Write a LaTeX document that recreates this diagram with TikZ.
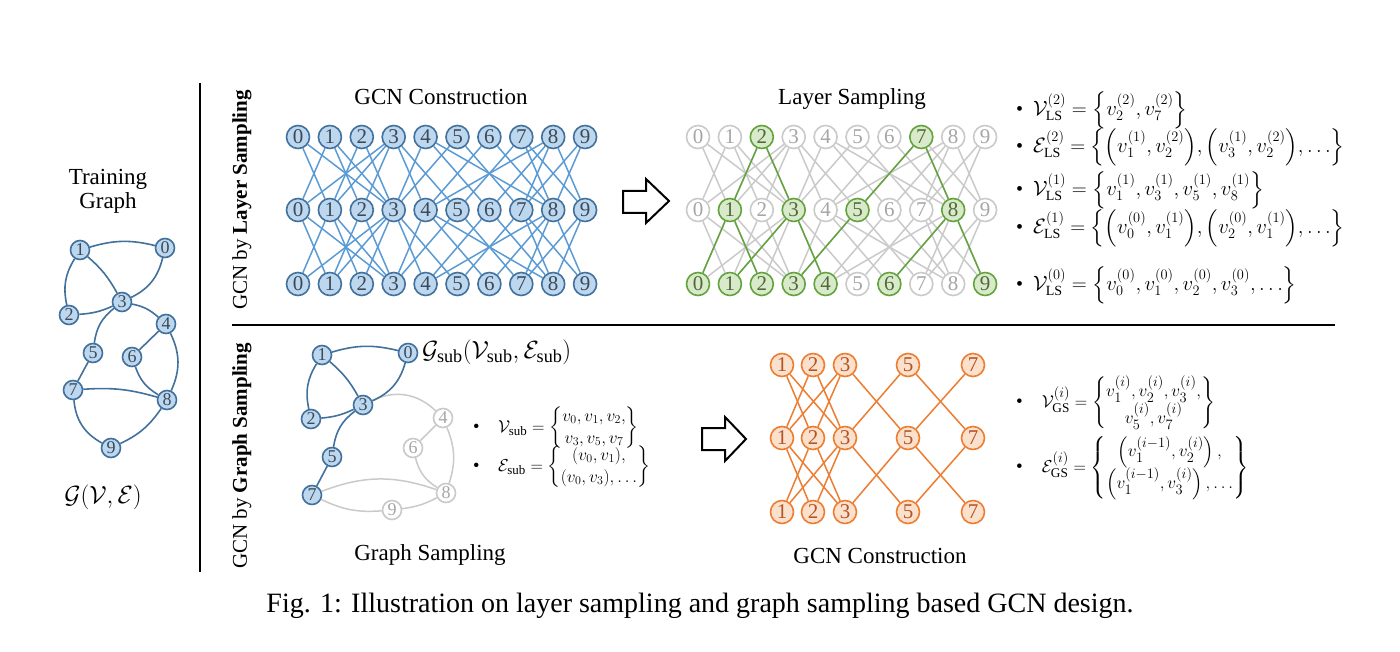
\documentclass[tikz,border=0pt]{standalone}
\usepackage{amsmath}
\usepackage{fontspec}
\setmainfont{Liberation Serif}

\definecolor{bluefill}{HTML}{BDD7EE}
\definecolor{blueline}{HTML}{41719C}
\definecolor{blueedge}{HTML}{5B9BD5}
\definecolor{greenfill}{HTML}{D9EACB}
\definecolor{greenline}{HTML}{62A33D}
\definecolor{greentext}{HTML}{4F6A38}
\definecolor{grayline}{HTML}{CACACA}
\definecolor{graytext}{HTML}{A6A6A6}
\definecolor{orangefill}{HTML}{FBE0CC}
\definecolor{orangeline}{HTML}{ED7D31}
\definecolor{orangetext}{HTML}{B0552A}
\definecolor{nodetext}{HTML}{3A4A5A}

\tikzset{
  vtx/.style={circle, draw, inner sep=0pt, line width=1.6pt, minimum size=23pt, font=\fontsize{21}{21}\selectfont},
  bvtx/.style={vtx, draw=blueline, fill=bluefill, text=nodetext},
  grn/.style={vtx, draw=greenline, fill=greenfill, text=greentext},
  gry/.style={vtx, draw=grayline, fill=white, text=graytext},
  ovtx/.style={vtx, draw=orangeline, fill=orangefill, text=orangetext},
  tvtx/.style={bvtx, minimum size=19pt, font=\fontsize{18}{18}\selectfont},
  svtx/.style={gry, minimum size=19pt, font=\fontsize{18}{18}\selectfont},
  bedge/.style={draw=blueedge, line width=1.5pt},
  gedge/.style={draw=greenline, line width=1.5pt},
  xedge/.style={draw=grayline, line width=1.5pt},
  oedge/.style={draw=orangeline, line width=1.5pt},
  tedge/.style={draw=blueline, line width=1.6pt},
  title/.style={font=\fontsize{23}{26}\selectfont},
  mathtxt/.style={anchor=west, inner sep=0pt, font=\fontsize{20}{20}\selectfont},
  blockarrow/.style={draw=black, line width=2pt, fill=white, line join=miter},
}

\begin{document}
\begin{tikzpicture}[x=1pt, y=-1pt]
\path[fill=white, use as bounding box] (0,0) rectangle (1400,652);

% dividers
\draw[line width=2pt] (200,83) -- (200,572);
\draw[line width=2.5pt] (232,325) -- (1335,325);
\node[rotate=90, font=\fontsize{21}{24}\selectfont] (lslab) at (242,200) {GCN by \textbf{Layer Sampling}};
\node[rotate=90, font=\fontsize{21}{24}\selectfont] (gslab) at (242,456) {GCN by \textbf{Graph Sampling}};

% training graph
\node[title, align=center] (ttl) at (108,191) {Training\\[-2pt]Graph};
\node[tvtx] (t0) at (165,248) {0};
\node[tvtx] (t1) at (80,250) {1};
\node[tvtx] (t2) at (69,315) {2};
\node[tvtx] (t3) at (122,302) {3};
\node[tvtx] (t4) at (166,324) {4};
\node[tvtx] (t5) at (93,353) {5};
\node[tvtx] (t6) at (132,357) {6};
\node[tvtx] (t7) at (73,390) {7};
\node[tvtx] (t8) at (167,400) {8};
\node[tvtx] (t9) at (111,448) {9};
\draw[tedge] (t1) to[bend left=15] (t0);
\draw[tedge] (t1) to[bend left=10] (t3);
\draw[tedge] (t1) to[bend right=22] (t2);
\draw[tedge] (t0) to[bend left=25] (t3);
\draw[tedge] (t2) to[bend right=10] (t3);
\draw[tedge] (t3) to[bend left=15] (t4);
\draw[tedge] (t3) to[bend right=22] (t5);
\draw[tedge] (t4) -- (t6);
\draw[tedge] (t4) to[bend left=25] (t8);
\draw[tedge] (t5) -- (t7);
\draw[tedge] (t6) to[bend right=20] (t8);
\draw[tedge] (t7) to[bend left=10] (t8);
\draw[tedge] (t7) to[bend right=28] (t9);
\draw[tedge] (t9) to[bend right=15] (t8);
\node[font=\fontsize{24}{26}\selectfont] (tg) at (103,497) {$\mathcal{G}(\mathcal{V},\mathcal{E})$};

% GCN construction (layer sampling row)
\node[title] (gcnttl) at (441,97) {GCN Construction};
\foreach \i in {0,...,9} {
  \node[bvtx] (gt\i) at ({298+31.9*\i},137) {\i};
  \node[bvtx] (gm\i) at ({298+31.9*\i},210) {\i};
  \node[bvtx] (gb\i) at ({298+31.9*\i},284) {\i};
}
\foreach \u/\v in {0/1,0/3,1/2,1/3,2/3,3/4,3/5,4/6,4/8,5/7,6/8,7/8,7/9,8/9} {
  \draw[bedge] (gt\u) -- (gm\v);
  \draw[bedge] (gt\v) -- (gm\u);
  \draw[bedge] (gm\u) -- (gb\v);
  \draw[bedge] (gm\v) -- (gb\u);
}

\draw[blockarrow] (623,191) -- (646,191) -- (646,179) -- (669,201) -- (646,223) -- (646,213) -- (623,213) -- cycle;

% layer sampling
\node[title] (lsttl) at (852,99) {Layer Sampling};
\foreach \i/\s in {0/gry,1/gry,2/grn,3/gry,4/gry,5/gry,6/gry,7/grn,8/gry,9/gry}
  \node[\s] (lt\i) at ({698+31.9*\i},137) {\i};
\foreach \i/\s in {0/gry,1/grn,2/gry,3/grn,4/gry,5/grn,6/gry,7/gry,8/grn,9/gry}
  \node[\s] (lm\i) at ({698+31.9*\i},210) {\i};
\foreach \i/\s in {0/grn,1/grn,2/grn,3/grn,4/grn,5/gry,6/grn,7/gry,8/gry,9/grn}
  \node[\s] (lb\i) at ({698+31.9*\i},284) {\i};
\foreach \u/\v in {0/1,0/3,1/2,1/3,2/3,3/4,3/5,4/6,4/8,5/7,6/8,7/8,7/9,8/9} {
  \draw[xedge] (lt\u) -- (lm\v);
  \draw[xedge] (lt\v) -- (lm\u);
  \draw[xedge] (lm\u) -- (lb\v);
  \draw[xedge] (lm\v) -- (lb\u);
}
\foreach \a/\b in {lt2/lm1,lt2/lm3,lt7/lm5,lt7/lm8,lm1/lb0,lm1/lb2,lm3/lb1,lm3/lb4,lm5/lb3,lm8/lb6,lm8/lb9}
  \draw[gedge] (\a) -- (\b);

\node[mathtxt] (ls1) at (1016,110) {\textbullet\enspace$\mathcal{V}_{\mathrm{LS}}^{(2)}=\Bigl\{v_2^{(2)},v_7^{(2)}\Bigr\}$};
\node[mathtxt] (ls2) at (1016,147) {\textbullet\enspace$\mathcal{E}_{\mathrm{LS}}^{(2)}=\Bigl\{\Bigl(v_1^{(1)},v_2^{(2)}\Bigr),\Bigl(v_3^{(1)},v_2^{(2)}\Bigr),\ldots\Bigr\}$};
\node[mathtxt] (ls3) at (1016,190) {\textbullet\enspace$\mathcal{V}_{\mathrm{LS}}^{(1)}=\Bigl\{v_1^{(1)},v_3^{(1)},v_5^{(1)},v_8^{(1)}\Bigr\}$};
\node[mathtxt] (ls4) at (1016,228) {\textbullet\enspace$\mathcal{E}_{\mathrm{LS}}^{(1)}=\Bigl\{\Bigl(v_0^{(0)},v_1^{(1)}\Bigr),\Bigl(v_2^{(0)},v_1^{(1)}\Bigr),\ldots\Bigr\}$};
\node[mathtxt] (ls5) at (1016,285) {\textbullet\enspace$\mathcal{V}_{\mathrm{LS}}^{(0)}=\Bigl\{v_0^{(0)},v_1^{(0)},v_2^{(0)},v_3^{(0)},\ldots\Bigr\}$};

% graph sampling
\node[tvtx] (s0) at (408,353) {0};
\node[tvtx] (s1) at (322,355) {1};
\node[tvtx] (s2) at (311,419) {2};
\node[tvtx] (s3) at (363,405) {3};
\node[svtx] (s4) at (443,418) {4};
\node[tvtx] (s5) at (332,457) {5};
\node[svtx] (s6) at (413,448) {6};
\node[tvtx] (s7) at (312,495) {7};
\node[svtx] (s8) at (446,493) {8};
\node[svtx] (s9) at (392,510) {9};
\draw[xedge] (s3) to[bend left=35] (s4);
\draw[xedge] (s4) -- (s6);
\draw[xedge] (s4) to[bend left=20] (s8);
\draw[xedge] (s6) to[bend right=22] (s8);
\draw[xedge] (s7) to[bend left=20] (s8);
\draw[xedge] (s7) to[bend right=15] (s9);
\draw[xedge] (s9) to[bend right=10] (s8);
\draw[tedge] (s1) to[bend left=15] (s0);
\draw[tedge] (s1) to[bend left=10] (s3);
\draw[tedge] (s1) to[bend right=22] (s2);
\draw[tedge] (s0) to[bend left=25] (s3);
\draw[tedge] (s2) to[bend right=10] (s3);
\draw[tedge] (s3) to[bend right=22] (s5);
\draw[tedge] (s5) -- (s7);
\node[font=\fontsize{26}{30}\selectfont, anchor=west, inner sep=0pt] (sublab) at (422,352) {$\mathcal{G}_{\mathrm{sub}}(\mathcal{V}_{\mathrm{sub}},\mathcal{E}_{\mathrm{sub}})$};
\node[mathtxt, font=\fontsize{18.5}{22}\selectfont] (gs1) at (473,428) {\textbullet\quad$\mathcal{V}_{\mathrm{sub}}=\left\{\begin{matrix}v_0,v_1,v_2,\\ v_3,v_5,v_7\end{matrix}\right\}$};
\node[mathtxt, font=\fontsize{18.5}{22}\selectfont] (gs2) at (473,467) {\textbullet\quad$\mathcal{E}_{\mathrm{sub}}=\left\{\begin{matrix}(v_0,v_1),\\ (v_0,v_3),\ldots\end{matrix}\right\}$};
\node[title] (gsttl) at (430,555) {Graph Sampling};

\draw[blockarrow] (702,428) -- (725,428) -- (725,417) -- (746,439) -- (725,461) -- (725,450) -- (702,450) -- cycle;

% GCN construction (graph sampling row)
\foreach \i/\x in {1/782,2/813,3/845,5/908,7/973} {
  \node[ovtx] (ot\i) at (\x,365) {\i};
  \node[ovtx] (om\i) at (\x,438) {\i};
  \node[ovtx] (ob\i) at (\x,512) {\i};
}
\foreach \u/\v in {1/2,1/3,2/3,3/5,5/7} {
  \draw[oedge] (ot\u) -- (om\v);
  \draw[oedge] (ot\v) -- (om\u);
  \draw[oedge] (om\u) -- (ob\v);
  \draw[oedge] (om\v) -- (ob\u);
}
\node[title] (ocnttl) at (880,556) {GCN Construction};

\node[mathtxt, font=\fontsize{19}{22}\selectfont] (gs3) at (1016,403) {\textbullet\quad$\mathcal{V}_{\mathrm{GS}}^{(i)}=\left\{\begin{matrix}v_1^{(i)},v_2^{(i)},v_3^{(i)},\\ v_5^{(i)},v_7^{(i)}\end{matrix}\right\}$};
\node[mathtxt, font=\fontsize{19}{22}\selectfont] (gs4) at (1016,468) {\textbullet\quad$\mathcal{E}_{\mathrm{GS}}^{(i)}=\left\{\begin{matrix}\left(v_1^{(i-1)},v_2^{(i)}\right),\\ \left(v_1^{(i-1)},v_3^{(i)}\right),\ldots\end{matrix}\right\}$};

% caption
\node[font=\fontsize{28}{30}\selectfont] (cap) at (700,606) {Fig. 1: Illustration on layer sampling and graph sampling based GCN design.};
\end{tikzpicture}
\end{document}
